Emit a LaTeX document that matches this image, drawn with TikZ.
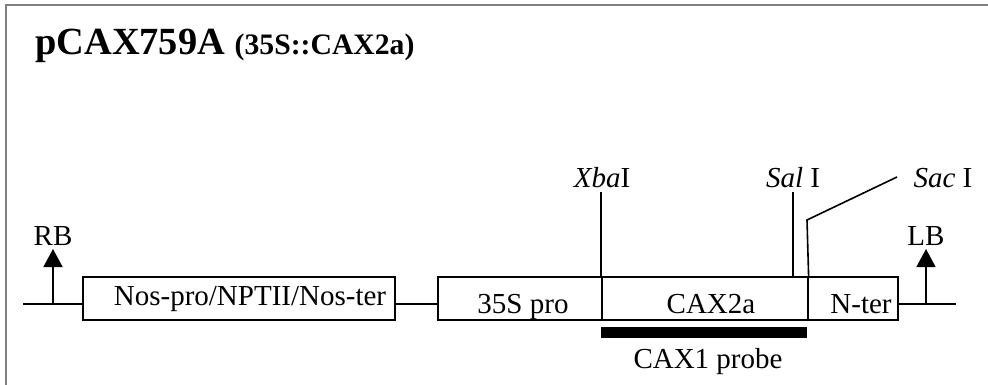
\documentclass[tikz,border=0pt]{standalone}
\usepackage{fontspec}
\setmainfont{Liberation Serif}
\usetikzlibrary{arrows.meta}
\tikzset{
  seg/.style={draw, line width=1.6pt, minimum height=43pt, inner sep=0pt, anchor=north west},
  lbl/.style={inner sep=0pt, anchor=base, font=\fontsize{29}{34}\selectfont},
  wire/.style={line width=1.6pt},
  frame/.style={line width=2pt, color=black!50},
}
\begin{document}
\begin{tikzpicture}[x=1pt,y=-1pt]
\useasboundingbox (0,0) rectangle (988,385);
\draw[frame] (6,385) -- (6,5) -- (988,5);
% title
\node[inner sep=0pt, anchor=base west] (title) at (35,55)
  {\bfseries\fontsize{38.4}{44}\selectfont pCAX759A \fontsize{29.7}{34}\selectfont(35S::CAX2a)};
% boxes
\node[seg, minimum width=312pt] (b1) at (82,276) {};
\node[seg, minimum width=164pt] (p35) at (437,276) {};
\node[seg, minimum width=206pt] (cax) at (601,276) {};
\node[seg, minimum width=90pt] (nter) at (807,276) {};
\node[fill=black, inner sep=0pt, minimum width=206pt, minimum height=11pt, anchor=north west] (probe) at (601,327) {};
% texts
\node[lbl] (t1) at (250,305) {Nos-pro/NPTII/Nos-ter};
\node[lbl] (t2) at (523,313) {35S pro};
\node[lbl] (t3) at (711,313) {CAX2a};
\node[lbl] (t4) at (861,313) {N-ter};
\node[lbl] (tp) at (708,368) {CAX1 probe};
\node[lbl] (xba) at (602,187) {\textit{Xba}I};
\node[lbl] (sal) at (793,187) {\textit{Sal} I};
\node[lbl] (sac) at (943,187) {\textit{Sac} I};
\node[lbl] (rb) at (53,245) {RB};
\node[lbl] (lb) at (926,245) {LB};
% coordinates
\coordinate (L0) at (23,304);
\coordinate (R0) at (956,304);
\coordinate (rbx) at (53,304);
\coordinate (lbx) at (926,304);
\coordinate (xbatop) at (601,192);
\coordinate (saltop) at (793,192);
\coordinate (sacbend) at (807,220);
\coordinate (sacend) at (897,177);
% main line
\draw[wire] (L0) -- (L0 -| b1.west);
\draw[wire] (L0 -| b1.east) -- (L0 -| p35.west);
\draw[wire] (R0 -| nter.east) -- (R0);
% border arrows
\draw[wire, -{Triangle[length=18pt,width=19pt]}] (rbx) -- ++(0,-55);
\draw[wire, -{Triangle[length=18pt,width=19pt]}] (lbx) -- ++(0,-55);
% restriction sites
\draw[wire] (xbatop) -- (cax.north west);
\draw[wire] (saltop) -- (saltop |- cax.north);
\draw[wire] (cax.north east) -- (sacbend) -- (sacend);
\end{tikzpicture}
\end{document}
